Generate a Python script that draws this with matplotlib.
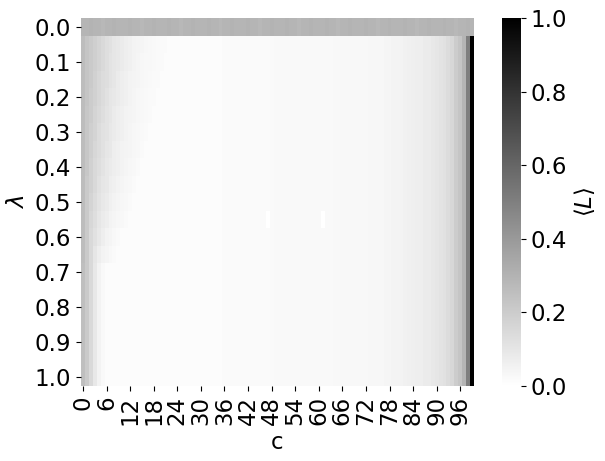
import numpy as np
import matplotlib
matplotlib.use("Agg")
import matplotlib.pyplot as plt
import seaborn as sns

# lambda rows (0.00 .. 1.00 in steps of 0.05) and c columns (0 .. 99)
lam = [round(0.05 * i, 2) for i in range(21)]
c_vals = list(range(100))

# row lambda = 0: flat grey band
top_row = [0.29, 0.29, 0.30, 0.29, 0.29, 0.28, 0.29, 0.29, 0.30, 0.29] * 10

# background per column for lambda > 0 (right-hand dark edge)
col_profile = [
    0.015, 0.015, 0.015, 0.015, 0.015, 0.015, 0.015, 0.015, 0.015, 0.015,
    0.015, 0.015, 0.015, 0.015, 0.015, 0.015, 0.015, 0.015, 0.015, 0.015,
    0.015, 0.015, 0.015, 0.015, 0.015, 0.015, 0.015, 0.015, 0.015, 0.015,
    0.015, 0.015, 0.015, 0.015, 0.015, 0.015, 0.02, 0.02, 0.02, 0.02,
    0.02, 0.02, 0.02, 0.02, 0.02, 0.02, 0.02, 0.02, 0.02, 0.025,
    0.025, 0.025, 0.025, 0.025, 0.025, 0.025, 0.025, 0.025, 0.025, 0.025,
    0.025, 0.025, 0.025, 0.025, 0.03, 0.03, 0.03, 0.03, 0.03, 0.03,
    0.03, 0.03, 0.03, 0.035, 0.035, 0.035, 0.035, 0.04, 0.04, 0.05,
    0.05, 0.05, 0.055, 0.06, 0.065, 0.07, 0.07, 0.08, 0.08, 0.09,
    0.10, 0.11, 0.12, 0.14, 0.16, 0.20, 0.23, 0.29, 0.50, 1.00,
]

# left-edge values for rows lambda = 0.05 .. 1.00, starting at c = 0
left_rows = [
    [.26, .23, .21, .19, .17, .15, .13, .12, .10, .09, .08, .07, .06, .05, .045, .04, .035, .03, .025, .02, .02, .02],
    [.26, .23, .21, .19, .17, .15, .13, .11, .10, .09, .08, .07, .06, .05, .04, .035, .03, .03, .025, .02, .02],
    [.26, .23, .21, .18, .16, .14, .13, .11, .10, .08, .07, .06, .05, .045, .04, .035, .03, .025, .02, .02],
    [.26, .23, .20, .18, .16, .14, .12, .10, .09, .08, .07, .06, .05, .04, .035, .03, .025, .02, .02],
    [.26, .22, .20, .17, .15, .13, .11, .10, .08, .07, .06, .05, .045, .04, .035, .03, .025, .02],
    [.26, .22, .19, .17, .14, .12, .11, .09, .08, .07, .06, .05, .04, .035, .03, .025, .02],
    [.26, .22, .19, .16, .14, .12, .10, .09, .07, .06, .05, .045, .04, .035, .03, .02],
    [.26, .22, .18, .15, .13, .11, .09, .08, .07, .06, .05, .04, .035, .03, .02],
    [.26, .21, .18, .15, .12, .10, .09, .07, .06, .05, .04, .035, .03, .02],
    [.26, .21, .17, .14, .11, .09, .08, .06, .05, .04, .035, .03, .02],
    [.26, .21, .16, .13, .10, .08, .07, .05, .04, .035, .03, .02],
    [.26, .21, .15, .12, .09, .07, .05, .04, .03, .02],
    [.26, .21, .15, .10, .07, .05, .04, .03, .02],
    [.25, .21, .15, .09, .05, .025],
    [.25, .21, .15, .09, .05, .025],
    [.25, .21, .15, .09, .05, .025],
    [.25, .21, .15, .09, .05, .025],
    [.25, .21, .15, .09, .05, .025],
    [.25, .21, .15, .09, .05, .025],
    [.25, .21, .15, .09, .05, .025],
]

# isolated white cells (row index, column)
white_cells = [(11, 47), (11, 61)]

L = np.zeros((len(lam), len(c_vals)))
L[0] = top_row
for i, vals in enumerate(left_rows, start=1):
    L[i] = col_profile
    L[i, :len(vals)] = vals
for r, c in white_cells:
    L[r, c] = 0.0

W, H = 605, 461
fig = plt.figure(figsize=(W / 100, H / 100), dpi=100)
ax = fig.add_axes([81 / W, 1 - 386 / H, (474 - 81) / W, (386 - 18) / H])
cax = fig.add_axes([502 / W, 1 - 386 / H, (521 - 502) / W, (386 - 18) / H])

sns.heatmap(L, ax=ax, cbar_ax=cax, cmap="binary", vmin=0, vmax=1,
            xticklabels=False, yticklabels=False)

fs = 16.5
ax.set_xticks(np.arange(0, 100, 6) + 0.5)
ax.set_xticklabels([str(v) for v in range(0, 100, 6)], rotation=90, fontsize=fs)
ax.set_yticks(np.arange(0, 21, 2) + 0.5)
ax.set_yticklabels([f"{lam[i]:.1f}" for i in range(0, 21, 2)], rotation=0, fontsize=fs)
ax.set_xlabel("c", fontsize=fs)
ax.set_ylabel(r"$\lambda$", fontsize=fs)

cax.tick_params(labelsize=fs)
cax.set_ylabel(r"$\langle L \rangle$", fontsize=fs)

fig.savefig("out.png", dpi=100)
